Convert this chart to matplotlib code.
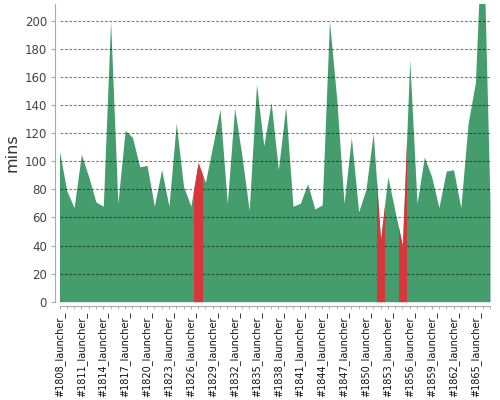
import matplotlib.pyplot as plt
from matplotlib.patches import Rectangle
from matplotlib.ticker import MultipleLocator
import numpy as np

# build numbers and durations (mins)
builds = list(range(1808, 1868))
durations = [107, 79, 67, 105, 89, 71, 68, 200, 70, 122,
             117, 96, 97, 68, 94, 68, 127, 82, 68, 99,
             85, 111, 137, 70, 138, 104, 65, 155, 111, 142,
             94, 139, 68, 70, 84, 66, 69, 200, 144, 70,
             117, 64, 80, 120, 44, 89, 64, 40, 172, 70,
             103, 89, 67, 93, 94, 67, 127, 156, 280, 70]
failed = [1827, 1852, 1855]
labels = [f'#{b}_launcher_' for b in builds]

GREEN = '#459d6e'
RED = '#d7363a'
GREY = '#aaaaaa'

x = np.arange(len(builds))
y = np.array(durations)

fig = plt.figure(figsize=(5, 4), dpi=100)
ax = fig.add_axes([0.119, 0.2458, 0.861, 0.7442])

# Main area
ax.fill_between(x, y, color=GREEN, linewidth=0, zorder=2)

# Failed builds, same area clipped to one build width
for b in failed:
    i = builds.index(b)
    red = ax.fill_between(x, y, color=RED, linewidth=0, zorder=3)
    clip = Rectangle((i - 0.5, 0), 1, 1000, transform=ax.transData)
    red.set_clip_path(clip)

ax.set_xlim(0, len(builds) - 1)
ax.set_ylim(0, 212)

# Axes styling
for side in ['top', 'right']:
    ax.spines[side].set_visible(False)
for side in ['left', 'bottom']:
    ax.spines[side].set_color(GREY)
    ax.spines[side].set_position(('outward', 3))

ax.yaxis.set_major_locator(MultipleLocator(20))
ax.yaxis.grid(True, linestyle=(0, (2.5, 1.5)), color='black', alpha=0.5,
              linewidth=0.8, zorder=4)
ax.set_axisbelow(False)
ax.tick_params(axis='y', labelsize=8.5, labelcolor='#444444',
               color=GREY, length=3, pad=3)

ax.set_xticks(x[::3])
ax.set_xticklabels(labels[::3], rotation=90, fontsize=7, color='#111111')
ax.set_xticks(x, minor=True)
ax.tick_params(axis='x', which='both', color=GREY, length=2.5, pad=2)

ax.set_ylabel('mins', fontsize=11.5, color='#333333', labelpad=4)

fig.savefig('out.png', dpi=100)
